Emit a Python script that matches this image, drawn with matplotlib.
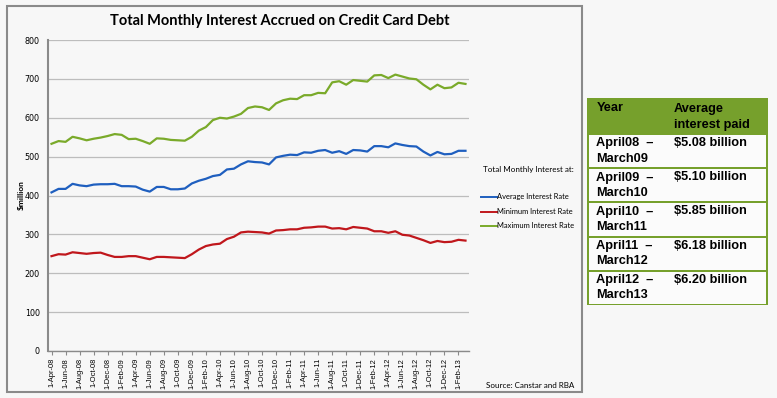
import numpy as np
import pandas as pd
import matplotlib
matplotlib.use('Agg')
import matplotlib.pyplot as plt
from matplotlib.patches import Rectangle
from matplotlib.lines import Line2D


months = pd.date_range('2008-04-01', '2013-03-01', freq='MS')
month_labels = [f"1-{m.strftime('%b')}-{m.strftime('%y')}" for m in months]

avg_rate = [408, 417, 417, 430, 426, 424, 428, 429, 429, 430, 424, 424, 423, 415, 410,
            422, 422, 416, 416, 418, 431, 438, 443, 450, 453, 467, 469, 480, 488, 486,
            485, 480, 498, 502, 505, 504, 511, 510, 515, 517, 510, 514, 507, 517, 516,
            513, 527, 527, 524, 534, 530, 527, 526, 513, 503, 512, 506, 507, 515, 515]
min_rate = [244, 249, 248, 254, 252, 250, 252, 253, 247, 242, 242, 244, 244, 240, 236,
            242, 242, 241, 240, 239, 249, 261, 270, 274, 276, 288, 294, 305, 307, 306,
            305, 302, 310, 311, 313, 313, 317, 318, 320, 320, 315, 316, 313, 319, 317,
            315, 308, 308, 304, 308, 299, 297, 291, 285, 278, 283, 280, 281, 286, 284]
max_rate = [533, 540, 538, 551, 547, 542, 546, 549, 553, 558, 556, 545, 546, 540, 533,
            547, 546, 543, 542, 541, 551, 567, 576, 594, 600, 598, 603, 610, 625, 629,
            627, 620, 637, 645, 649, 648, 658, 658, 664, 663, 691, 694, 685, 697, 695,
            693, 709, 710, 702, 711, 706, 701, 699, 685, 673, 685, 676, 678, 690, 687]

series_names = ['Average Interest Rate', 'Minimum Interest Rate', 'Maximum Interest Rate']
series_colors = ['#1f5fbf', '#c0171c', '#7aaa2a']

table_years = ['April08  –\nMarch09', 'April09  –\nMarch10', 'April10  –\nMarch11',
               'April11  –\nMarch12', 'April12  –\nMarch13']
table_amounts = ['$5.08 billion', '$5.10 billion', '$5.85 billion',
                 '$6.18 billion', '$6.20 billion']

W, H = 777, 398
bg = '#f7f7f7'
fig = plt.figure(figsize=(W / 100, H / 100), dpi=100, facecolor=bg)


def fx(px):
    return px / W


def fy(py):
    return 1 - py / H


# chart frame
fig.patches.append(Rectangle((fx(7), fy(392)), 575 / W, 386 / H, transform=fig.transFigure,
                             fill=False, edgecolor='#8a8a8a', linewidth=1.5))

ax = fig.add_axes([fx(48), fy(351), 421 / W, 311 / H])
ax.set_facecolor(bg)
x = np.arange(len(months))
for vals, name, col in zip([avg_rate, min_rate, max_rate], series_names, series_colors):
    ax.plot(x, vals, color=col, linewidth=1.6, label=name)

ax.set_xlim(-0.5, len(months) - 0.5)
ax.set_ylim(0, 800)
ax.set_yticks(range(0, 801, 100))
ax.grid(axis='y', color='#bdbdbd', linewidth=0.9)
ax.set_axisbelow(True)
ax.set_xticks(x[::2])
ax.set_xticklabels(month_labels[::2], rotation=90, fontsize=5.4, family='Liberation Sans')
ax.tick_params(axis='x', length=3, color='#8a8a8a', pad=2)
ax.tick_params(axis='y', length=0, labelsize=5.8, pad=6)
for s in ['top', 'right']:
    ax.spines[s].set_visible(False)
ax.spines['left'].set_color('#8a8a8a')
ax.spines['left'].set_linewidth(1.5)
ax.spines['bottom'].set_color('#8a8a8a')
ax.spines['bottom'].set_linewidth(1.0)

fig.text(fx(21), fy(195), '$million', rotation=90, ha='center', va='center',
         fontsize=6, fontweight='bold', family='Lato')

fig.text(fx(280), fy(21), 'Total Monthly Interest Accrued on Credit Card Debt',
         ha='center', va='center', fontsize=10.5, fontweight='bold', family='Lato')

# legend
fig.text(fx(483), fy(170), 'Total Monthly Interest at:', ha='left', va='center',
         fontsize=5.8, family='Lato')
for i, (name, col) in enumerate(zip(series_names, series_colors)):
    yy = fy(197 + 14.5 * i)
    fig.lines.append(Line2D([fx(481), fx(497)], [yy, yy], transform=fig.transFigure,
                            color=col, linewidth=1.4))
    fig.text(fx(497), yy, name, ha='left', va='center', fontsize=5.4, family='Lato')

fig.text(fx(574), fy(385), 'Source: Canstar and RBA', ha='right', va='center',
         fontsize=5.8, family='Lato')

# table on the right
green = '#76a02c'
tx0, tx1 = 587, 768
ty0, ty_head, ty1 = 98, 134, 305
row_h = (ty1 - ty_head) / len(table_years)

fig.patches.append(Rectangle((fx(tx0), fy(ty1)), fx(tx1 - tx0), (ty1 - ty0) / H,
                             transform=fig.transFigure, facecolor=green, edgecolor='none'))
for i in range(len(table_years)):
    top = ty_head + i * row_h
    fig.patches.append(Rectangle((fx(tx0 + 2), fy(top + row_h - 1)), fx(tx1 - tx0 - 4),
                                 (row_h - 2) / H, transform=fig.transFigure,
                                 facecolor='#fbfbfb', edgecolor='none'))

tfont = dict(fontsize=9.2, fontweight='bold', family='Liberation Sans', color='black')
fig.text(fx(597), fy(108), 'Year', ha='left', va='center', **tfont)
fig.text(fx(674), fy(117), 'Average\ninterest paid', ha='left', va='center',
         linespacing=1.35, **tfont)
for i, (yr, amt) in enumerate(zip(table_years, table_amounts)):
    top = ty_head + i * row_h
    fig.text(fx(596), fy(top + 17), yr, ha='left', va='center', linespacing=1.35, **tfont)
    fig.text(fx(674), fy(top + 9), amt, ha='left', va='center', **tfont)

fig.savefig('out.png', dpi=100, facecolor=bg)
